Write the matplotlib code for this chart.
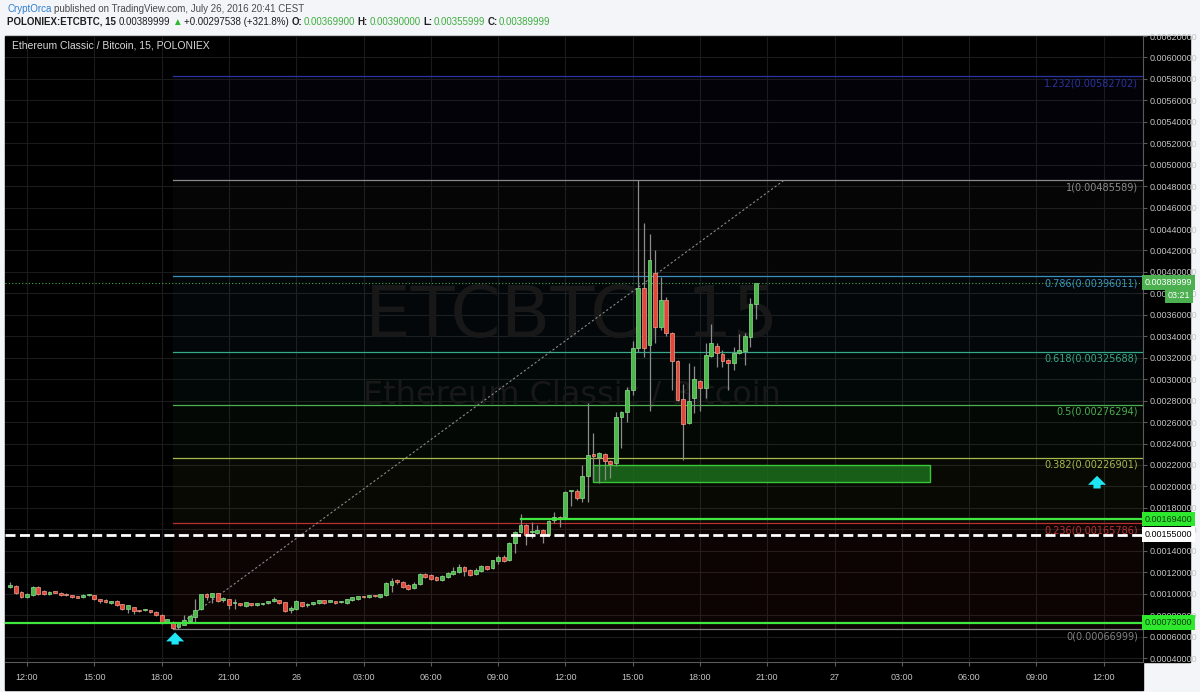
import matplotlib
matplotlib.use('Agg')
import matplotlib.pyplot as plt
import matplotlib.dates as mdates
import matplotlib.transforms as mtransforms
from matplotlib import font_manager
from matplotlib.patches import Rectangle, FancyArrowPatch
import numpy as np
import pandas as pd

# ---- candle data (15 min, POLONIEX ETC/BTC) ----
start_time = '2016-07-25 11:15'
opens = [0.001062, 0.001071, 0.001015, 0.000969, 0.000987, 0.001062, 0.001024, 0.000997, 0.001015, 0.001006,
         0.000997, 0.000978, 0.000978, 0.000969, 0.000987, 0.000987, 0.000950, 0.000945, 0.000917, 0.000931,
         0.000903, 0.000857, 0.000875, 0.000843, 0.000848, 0.000848, 0.000829, 0.000801, 0.000736, 0.000736,
         0.000689, 0.000708, 0.000745, 0.000782, 0.000857, 0.001001, 0.000969, 0.001006, 0.000945, 0.000950,
         0.000913, 0.000913, 0.000885, 0.000913, 0.000894, 0.000903, 0.000913, 0.000931, 0.000941, 0.000922,
         0.000848, 0.000857, 0.000922, 0.000894, 0.000903, 0.000913, 0.000941, 0.000927, 0.000931, 0.000920,
         0.000913, 0.000941, 0.000950, 0.000978, 0.000969, 0.000983, 0.000969, 0.000987, 0.001080, 0.001127,
         0.001108, 0.001080, 0.001052, 0.001090, 0.001183, 0.001173, 0.001155, 0.001127, 0.001155, 0.001183,
         0.001202, 0.001248, 0.001220, 0.001183, 0.001211, 0.001257, 0.001239, 0.001304, 0.001341, 0.001313,
         0.001472, 0.001574, 0.001640, 0.001574, 0.001565, 0.001593, 0.001546, 0.001686, 0.001714, 0.001714,
         0.001956, 0.001956, 0.001891, 0.002096, 0.002292, 0.002273, 0.002301, 0.002236, 0.002217, 0.002646,
         0.002693, 0.002898, 0.003289, 0.003848, 0.003317, 0.003988, 0.003485, 0.003737, 0.003429, 0.003168,
         0.002814, 0.002590, 0.002823, 0.002982, 0.002916, 0.003215, 0.003308, 0.003233, 0.003177, 0.003149,
         0.003243, 0.003261, 0.003392, 0.003699]
highs = [0.001108, 0.001080, 0.001024, 0.001006, 0.001071, 0.001071, 0.001034, 0.001024, 0.001024, 0.001015,
         0.001006, 0.000987, 0.000983, 0.000997, 0.001001, 0.000992, 0.000955, 0.000950, 0.000936, 0.000941,
         0.000908, 0.000899, 0.000880, 0.000852, 0.000861, 0.000852, 0.000834, 0.000806, 0.000768, 0.000745,
         0.000736, 0.000801, 0.000801, 0.000950, 0.001001, 0.001006, 0.001010, 0.001010, 0.000969, 0.000955,
         0.000950, 0.000917, 0.000927, 0.000917, 0.000917, 0.000917, 0.000936, 0.000969, 0.000945, 0.000927,
         0.000885, 0.000941, 0.000927, 0.000913, 0.000927, 0.000945, 0.000945, 0.000945, 0.000936, 0.000936,
         0.000955, 0.000973, 0.000983, 0.000983, 0.000992, 0.000987, 0.001001, 0.001108, 0.001145, 0.001136,
         0.001117, 0.001090, 0.001108, 0.001192, 0.001192, 0.001183, 0.001164, 0.001173, 0.001201, 0.001248,
         0.001276, 0.001257, 0.001229, 0.001239, 0.001266, 0.001262, 0.001318, 0.001360, 0.001360, 0.001481,
         0.001584, 0.001742, 0.001649, 0.001668, 0.001640, 0.001602, 0.001686, 0.001761, 0.001724, 0.001956,
         0.001960, 0.001975, 0.002199, 0.002777, 0.002497, 0.002320, 0.002311, 0.002245, 0.002693, 0.002702,
         0.002926, 0.003354, 0.004856, 0.004454, 0.004351, 0.004202, 0.003951, 0.003765, 0.003439, 0.003177,
         0.002954, 0.003149, 0.003121, 0.002991, 0.003336, 0.003513, 0.003336, 0.003271, 0.003187, 0.003299,
         0.003420, 0.003429, 0.003755, 0.003900]
lows = [0.001052, 0.000997, 0.000960, 0.000960, 0.000978, 0.000987, 0.000987, 0.000987, 0.001006, 0.000978,
        0.000978, 0.000964, 0.000960, 0.000960, 0.000983, 0.000945, 0.000913, 0.000917, 0.000908, 0.000889,
        0.000848, 0.000819, 0.000810, 0.000829, 0.000838, 0.000824, 0.000796, 0.000717, 0.000731, 0.000670,
        0.000670, 0.000708, 0.000740, 0.000736, 0.000848, 0.000941, 0.000913, 0.000927, 0.000922, 0.000857,
        0.000857, 0.000889, 0.000880, 0.000889, 0.000889, 0.000899, 0.000908, 0.000927, 0.000908, 0.000829,
        0.000819, 0.000852, 0.000880, 0.000880, 0.000899, 0.000908, 0.000908, 0.000922, 0.000908, 0.000913,
        0.000908, 0.000936, 0.000945, 0.000964, 0.000964, 0.000973, 0.000964, 0.000983, 0.001015, 0.001090,
        0.001052, 0.001034, 0.001043, 0.001080, 0.001145, 0.001127, 0.001117, 0.001117, 0.001150, 0.001178,
        0.001197, 0.001164, 0.001164, 0.001178, 0.001206, 0.001225, 0.001234, 0.001276, 0.001295, 0.001308,
        0.001379, 0.001565, 0.001453, 0.001518, 0.001556, 0.001472, 0.001537, 0.001658, 0.001621, 0.001705,
        0.001817, 0.001872, 0.001854, 0.001854, 0.002059, 0.002031, 0.002059, 0.002078, 0.002189, 0.002357,
        0.002600, 0.002851, 0.003250, 0.003205, 0.002705, 0.003336, 0.003457, 0.003401, 0.002898, 0.002795,
        0.002245, 0.002581, 0.002683, 0.002702, 0.002823, 0.003205, 0.003112, 0.003112, 0.002898, 0.003084,
        0.003233, 0.003131, 0.003299, 0.003560]
closes = [0.001080, 0.001006, 0.000969, 0.000997, 0.001062, 0.000997, 0.000997, 0.001015, 0.001010, 0.000987,
          0.000987, 0.000973, 0.000964, 0.000987, 0.000990, 0.000950, 0.000931, 0.000922, 0.000931, 0.000894,
          0.000857, 0.000894, 0.000838, 0.000838, 0.000850, 0.000829, 0.000801, 0.000726, 0.000764, 0.000680,
          0.000726, 0.000754, 0.000792, 0.000847, 0.000997, 0.000969, 0.001006, 0.000931, 0.000950, 0.000894,
          0.000913, 0.000894, 0.000922, 0.000894, 0.000913, 0.000913, 0.000931, 0.000950, 0.000913, 0.000838,
          0.000866, 0.000931, 0.000885, 0.000903, 0.000922, 0.000941, 0.000913, 0.000931, 0.000913, 0.000922,
          0.000950, 0.000969, 0.000978, 0.000969, 0.000987, 0.000978, 0.000997, 0.001099, 0.001117, 0.001108,
          0.001062, 0.001043, 0.001090, 0.001183, 0.001155, 0.001136, 0.001127, 0.001164, 0.001192, 0.001211,
          0.001248, 0.001211, 0.001173, 0.001220, 0.001257, 0.001229, 0.001313, 0.001341, 0.001304, 0.001472,
          0.001574, 0.001640, 0.001546, 0.001579, 0.001593, 0.001556, 0.001677, 0.001714, 0.001696, 0.001947,
          0.001956, 0.001891, 0.002096, 0.002292, 0.002287, 0.002311, 0.002236, 0.002208, 0.002646, 0.002693,
          0.002898, 0.003289, 0.003848, 0.003289, 0.004109, 0.003485, 0.003737, 0.003429, 0.003168, 0.002805,
          0.002581, 0.002795, 0.003000, 0.002916, 0.003224, 0.003336, 0.003243, 0.003168, 0.003149, 0.003243,
          0.003271, 0.003401, 0.003699, 0.003900]

# fibonacci retracement drawn on the chart
fib_ratios = [0, 0.236, 0.382, 0.5, 0.618, 0.786, 1, 1.232]
fib_prices = [0.00066999, 0.00165786, 0.00226901, 0.00276294, 0.00325688, 0.00396011, 0.00485589, 0.00582702]
fib_colors = ['#808080', '#b83030', '#a9ba4e', '#4caf50', '#38a88a', '#3b8fc0', '#8a8a8a', '#2c34a0']
fib_start = '2016-07-25 18:30'
trend_end = '2016-07-26 21:45'

# other drawings
support_low = 0.00073
support_mid = 0.001694
support_mid_start = '2016-07-26 10:00'
dashed_level = 0.00155
last_price = 0.00389999
zone_t = ['2016-07-26 13:15', '2016-07-27 04:15']
zone_p = [0.00204, 0.00220]
arrow_t = ['2016-07-25 18:36', '2016-07-27 11:42']
arrow_tip = [0.000665, 0.002125]
arrow_base = [0.000500, 0.001955]

x_ticks = pd.date_range('2016-07-25 12:00', '2016-07-27 12:00', freq='3h')
y_ticks = np.arange(4, 63, 2) / 10000.0
x_range = ['2016-07-25 11:01', '2016-07-27 13:45']
y_range = [0.000363, 0.006197]

# ---- fonts ----
avail = {f.name for f in font_manager.fontManager.ttflist}
if 'Liberation Sans Narrow' in avail:
    NARROW = ['Liberation Sans Narrow', 'DejaVu Sans']
    hsize = 8
else:
    NARROW = ['Liberation Sans', 'DejaVu Sans']
    hsize = 7
plt.rcParams['font.family'] = NARROW

W, H = 1200, 692
fig = plt.figure(figsize=(12, 6.92), dpi=100, facecolor='#f3f5f9')


def fx(px):
    return px / W


def fy(py):
    return 1 - py / H


# black chart panel
fig.patches.append(Rectangle((fx(5), fy(662)), fx(1190) - fx(5), fy(36) - fy(662),
                             transform=fig.transFigure, color='black', zorder=-5))
fig.patches.append(Rectangle((fx(5), fy(690)), fx(1143) - fx(5), fy(662) - fy(690),
                             transform=fig.transFigure, color='black', zorder=-5))

ax = fig.add_axes([fx(5), fy(662), fx(1143) - fx(5), fy(36) - fy(662)])
ax.set_facecolor('black')

times = pd.date_range(start_time, periods=len(opens), freq='15min')
t = mdates.date2num(times)
o = np.array(opens)
hi = np.array(highs)
lo = np.array(lows)
c = np.array(closes)

x0, x1 = mdates.date2num(pd.to_datetime(x_range))
ax.set_xlim(x0, x1)
ax.set_ylim(*y_range)

# grid
ax.set_xticks(mdates.date2num(x_ticks))
ax.set_yticks(y_ticks)
ax.grid(True, color='#1b1b1b', lw=0.8, zorder=0)
ax.set_axisbelow(True)

# fib zones and lines
fs = mdates.date2num(pd.Timestamp(fib_start))
zone_alpha = [0, 0.07, 0.05, 0.05, 0.05, 0.05, 0.04, 0.05]
for k in range(1, len(fib_prices)):
    ax.fill_between([fs, x1], fib_prices[k - 1], fib_prices[k], color=fib_colors[k], alpha=zone_alpha[k],
                    lw=0, zorder=0.6)
lab_tr = mtransforms.blended_transform_factory(ax.transAxes, ax.transData)
for r, p, col in zip(fib_ratios, fib_prices, fib_colors):
    ax.plot([fs, x1], [p, p], color=col, lw=0.9, zorder=2)
    ax.annotate(f'{r:g}({p:.8f})', xy=(0.9955, p), xycoords=lab_tr, xytext=(0, -1.5), textcoords='offset points',
                ha='right', va='top', color=col, fontsize=7, family='DejaVu Sans', zorder=2)

# watermark
ax.text(0.498, 0.55, 'ETCBTC, 15', transform=ax.transAxes, ha='center', va='center', fontsize=52,
        color='#181818', family='DejaVu Sans', zorder=1)
ax.text(0.498, 0.4265, 'Ethereum Classic / Bitcoin', transform=ax.transAxes, ha='center', va='center',
        fontsize=23, color='#181818', family='DejaVu Sans', zorder=1)

# trend line of the fib tool
te = mdates.date2num(pd.Timestamp(trend_end))
ax.plot([fs, te], [fib_prices[0], fib_prices[6]], color='#8a8a8a', lw=0.8, ls=(0, (2, 2)), zorder=2.5)

# green zone
z0, z1 = mdates.date2num(pd.to_datetime(zone_t))
ax.add_patch(Rectangle((z0, zone_p[0]), z1 - z0, zone_p[1] - zone_p[0], facecolor='#1c6e1c',
                       edgecolor='#3ee03e', lw=1.0, alpha=0.85, zorder=2.6))

# candles
width = 0.68 / 96
up = c >= o
body_lo = np.minimum(o, c)
body_h = np.maximum(np.abs(c - o), 0.000012)
ax.vlines(t, lo, hi, color='#8c8c8c', lw=0.9, zorder=3)
ax.bar(t[up], body_h[up], width, bottom=body_lo[up], color='#4cb84c', edgecolor='#8fe08f', lw=0.5, zorder=4)
ax.bar(t[~up], body_h[~up], width, bottom=body_lo[~up], color='#e4463a', edgecolor='#f2a08a', lw=0.5, zorder=4)

# horizontal levels
ax.axhline(support_low, color='#3ee83e', lw=1.6, zorder=5)
sm = mdates.date2num(pd.Timestamp(support_mid_start))
ax.plot([sm, x1], [support_mid, support_mid], color='#3ee83e', lw=1.6, zorder=5)
ax.axhline(dashed_level, color='white', lw=2.0, ls=(0, (3.6, 1.6)), zorder=5)
ax.axhline(last_price, color='#4caf50', lw=0.8, ls=(0, (1, 2)), zorder=5)

# cyan arrows
for at, tip, base in zip(arrow_t, arrow_tip, arrow_base):
    xa = mdates.date2num(pd.Timestamp(at))
    ax.add_patch(FancyArrowPatch((xa, base), (xa, tip),
                                 arrowstyle='simple,head_length=0.5,head_width=1.0,tail_width=0.4',
                                 mutation_scale=13, color='#1ee6f5', lw=0, zorder=6))

# axes styling
for s in ['top', 'left']:
    ax.spines[s].set_visible(False)
ax.spines['right'].set_color('#5a5a5a')
ax.spines['bottom'].set_color('#5a5a5a')
ax.yaxis.tick_right()
ax.tick_params(axis='y', colors='#5a5a5a', labelcolor='#c4c4c4', labelsize=6.5, length=3, pad=2)
ax.tick_params(axis='x', colors='#5a5a5a', labelcolor='#c4c4c4', labelsize=6.5, length=3, pad=5)
ax.set_yticklabels([f'{v:.8f}' for v in y_ticks])
ax.set_xticklabels([ts.strftime('%d').lstrip('0') if ts.hour == 0 else ts.strftime('%H:%M') for ts in x_ticks])


# price boxes on the scale
def scale_box(price, text, bg, fg, dy=0, dx=1.5):
    ax.annotate(text, xy=(1.0, price), xycoords=lab_tr, xytext=(dx, dy), textcoords='offset points',
                ha='left', va='center', fontsize=6.5, color=fg, zorder=10, annotation_clip=False,
                bbox=dict(boxstyle='square,pad=0.3', fc=bg, ec='none'))


scale_box(last_price, f'{last_price:.8f}', '#4caf50', 'white')
scale_box(last_price, '03:21', '#4caf50', 'white', dy=-9.5, dx=18)
scale_box(support_mid, f'{support_mid:.8f}', '#2ee82e', '#0b3d0b')
scale_box(dashed_level, f'{dashed_level:.8f}', 'white', 'black')
scale_box(support_low, f'{support_low:.8f}', '#2ee82e', '#0b3d0b')

# chart title inside panel
fig.text(fx(12), fy(46), 'Ethereum Classic / Bitcoin, 15, POLONIEX', color='#d8d8d8', fontsize=hsize + 0.5,
         va='center')

# header rows
fig.canvas.draw()
rend = fig.canvas.get_renderer()


def text_row(pieces, x_px, y_px, size):
    x = x_px
    for s, col, wt, gap in pieces:
        tt = fig.text(fx(x), fy(y_px), s, color=col, fontweight=wt, fontsize=size, va='center', ha='left')
        bb = tt.get_window_extent(renderer=rend)
        x += bb.width + gap


text_row([('CryptOrca', '#2f7dd1', 'normal', 3),
          ('published on TradingView.com, July 26, 2016 20:41 CEST', '#4a4a4a', 'normal', 0)], 7, 9, hsize)
green = '#3fae3f'
text_row([('POLONIEX:ETCBTC, 15', '#1e1e1e', 'bold', 3),
          ('0.00389999', '#1e1e1e', 'normal', 2),
          ('\u25b2', '#2eb82e', 'normal', 2),
          ('+0.00297538 (+321.8%)', '#1e1e1e', 'normal', 3),
          ('O:', '#1e1e1e', 'bold', 1), ('0.00369900', green, 'normal', 3),
          ('H:', '#1e1e1e', 'bold', 1), ('0.00390000', green, 'normal', 3),
          ('L:', '#1e1e1e', 'bold', 1), ('0.00355999', green, 'normal', 3),
          ('C:', '#1e1e1e', 'bold', 1), ('0.00389999', green, 'normal', 0)], 7, 22, hsize)

fig.savefig('out.png', dpi=100, facecolor=fig.get_facecolor())
